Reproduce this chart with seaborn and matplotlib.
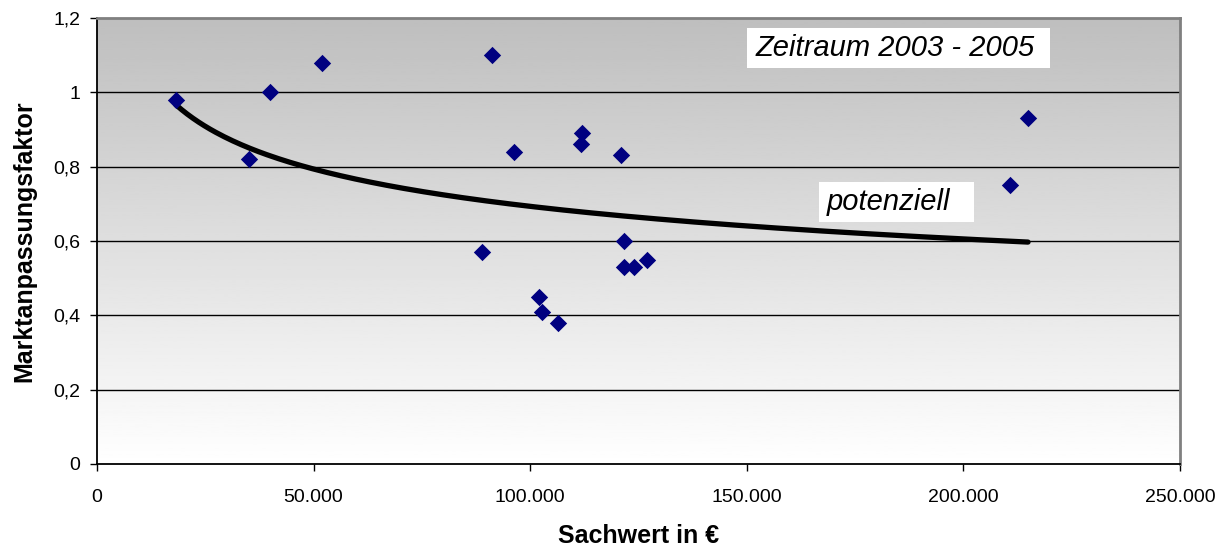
import numpy as np
import pandas as pd
import matplotlib
matplotlib.use("Agg")
import matplotlib.pyplot as plt
from matplotlib.patches import Rectangle
from matplotlib.ticker import FuncFormatter
import seaborn as sns

# Sachwert (EUR) and Marktanpassungsfaktor of the sales, 2003 - 2005
sachwert = [18200, 35200, 40000, 51900, 91200, 88900, 96300, 102000, 102800, 106300,
            121700, 121600, 124000, 126900, 111900, 111700, 121000, 214900, 210700]
faktor = [0.98, 0.82, 1.00, 1.08, 1.10, 0.57, 0.84, 0.45, 0.41, 0.38,
          0.60, 0.53, 0.53, 0.55, 0.89, 0.86, 0.83, 0.93, 0.75]

x_ticks = [0, 50000, 100000, 150000, 200000, 250000]
y_ticks = [0, 0.2, 0.4, 0.6, 0.8, 1.0, 1.2]

df = pd.DataFrame({"Sachwert": sachwert, "Faktor": faktor})

# power trend line y = a * x^b, fitted in log-log space
b, ln_a = np.polyfit(np.log(df["Sachwert"]), np.log(df["Faktor"]), 1)
xs = np.linspace(df["Sachwert"].min(), df["Sachwert"].max(), 300)
trend = pd.DataFrame({"Sachwert": xs, "Faktor": np.exp(ln_a) * xs ** b})

sns.set_theme(style="white")
plt.rcParams["font.family"] = ["Liberation Sans", "DejaVu Sans"]
plt.rcParams["text.color"] = "black"
plt.rcParams["axes.labelcolor"] = "black"

fig = plt.figure(figsize=(12.29, 5.48), dpi=100)
ax = fig.add_axes([0.0789, 0.1533, 0.8813, 0.8139])

# grey-to-white vertical gradient behind the data (dark at the top)
grad = np.linspace(0.745, 1.0, 256).reshape(-1, 1)
ax.imshow(grad, cmap="gray", vmin=0, vmax=1, aspect="auto", origin="upper",
          extent=[0, 1, 0, 1], transform=ax.transAxes, zorder=0)

ax.set_xlim(0, 250000)
ax.set_ylim(0, 1.2)

for yv in y_ticks[1:-1]:
    ax.axhline(yv, color="black", lw=1.0, zorder=1)

sns.lineplot(data=trend, x="Sachwert", y="Faktor", ax=ax, color="black",
             lw=3.8, zorder=3, solid_capstyle="round")
sns.scatterplot(data=df, x="Sachwert", y="Faktor", ax=ax, marker="D", s=78,
                color="#000080", edgecolor="#000080", linewidth=0, zorder=4)

ax.set_xticks(x_ticks)
ax.set_yticks(y_ticks)
ax.xaxis.set_major_formatter(FuncFormatter(lambda v, p: f"{int(v):,}".replace(",", ".")))
ax.yaxis.set_major_formatter(FuncFormatter(lambda v, p: f"{v:g}".replace(".", ",")))
ax.tick_params(axis="both", direction="out", length=5, width=1, color="black",
               labelsize=14, labelcolor="black", bottom=True, left=True)
ax.tick_params(axis="x", pad=13)
ax.tick_params(axis="y", pad=7)

for side in ("left", "bottom"):
    ax.spines[side].set_color("black")
    ax.spines[side].set_linewidth(1.3)
for side in ("top", "right"):
    ax.spines[side].set_visible(True)
    ax.spines[side].set_color("#808080")
    ax.spines[side].set_linewidth(2)

ax.set_xlabel("Sachwert in €", fontsize=18, fontweight="bold", labelpad=13)
ax.set_ylabel("Marktanpassungsfaktor", fontsize=18, fontweight="bold", labelpad=12)

# label boxes
ax.add_patch(Rectangle((0.6, 0.8879), 0.2798, 0.0897, transform=ax.transAxes,
                       facecolor="white", edgecolor="none", zorder=5))
ax.text(0.6085, 0.9327, "Zeitraum 2003 - 2005", transform=ax.transAxes,
        fontsize=21, fontstyle="italic", ha="left", va="center", zorder=6)
ax.add_patch(Rectangle((0.6667, 0.5426), 0.1431, 0.0897, transform=ax.transAxes,
                       facecolor="white", edgecolor="none", zorder=5))
ax.text(0.6741, 0.5874, "potenziell", transform=ax.transAxes,
        fontsize=21, fontstyle="italic", ha="left", va="center", zorder=6)

fig.savefig("out.png", dpi=100)
